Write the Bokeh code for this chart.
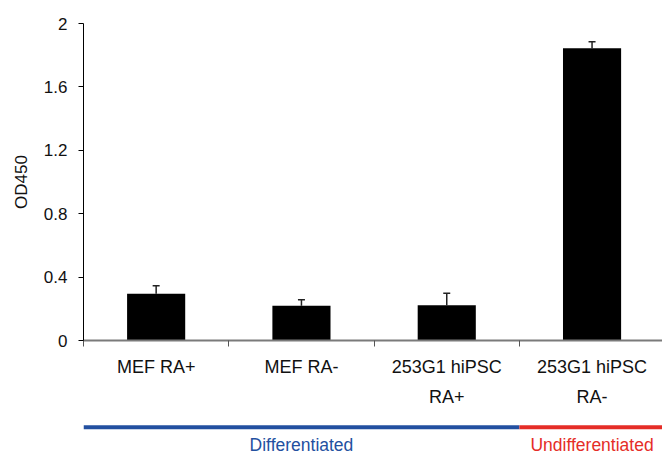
from bokeh.plotting import figure
from bokeh.models import (ColumnDataSource, Range1d, FixedTicker, Whisker, TeeHead)
from bokeh.layouts import column
from bokeh.core.properties import value
from bokeh.embed import file_html
from bokeh.resources import INLINE

# ---- data ----
categories_line1 = ["MEF RA+", "MEF RA-", "253G1 hiPSC", "253G1 hiPSC"]
categories_line2 = ["", "", "RA+", "RA-"]
od450 = [0.295, 0.219, 0.223, 1.844]
od450_err = [0.050, 0.038, 0.075, 0.041]
y_ticks = [0, 0.4, 0.8, 1.2, 1.6, 2]
y_tick_labels = ["0", "0.4", "0.8", "1.2", "1.6", "2"]
groups = ["Differentiated", "Undifferentiated"]
group_start = [0, 3]
group_end = [3, 4]
group_colors = ["#2350a0", "#e52d27"]

FONT_NAME = "Liberation Sans"
FONT = value(FONT_NAME)

xs = [i + 0.5 for i in range(len(od450))]
src = ColumnDataSource(dict(
    x=xs, value=od450,
    upper=[v + e for v, e in zip(od450, od450_err)],
    line1=categories_line1, line2=categories_line2,
))
gsrc = ColumnDataSource(dict(
    start=group_start, end=group_end, color=group_colors, name=groups,
    mid=[(s + e) / 2 for s, e in zip(group_start, group_end)],
))

W = 662
LEFT = 83
x_range = Range1d(0, (W - LEFT) / 145.3)

p = figure(width=W, height=352, x_range=x_range, y_range=Range1d(0, 2),
           toolbar_location=None, output_backend="svg",
           min_border_left=LEFT, min_border_right=0, min_border_top=23,
           min_border_bottom=12)
p.outline_line_color = None
p.xgrid.visible = False
p.ygrid.visible = False

p.vbar(x="x", top="value", width=0.4, source=src, fill_color="black",
       line_color=None)
p.add_layout(Whisker(base="x", lower="value", upper="upper", source=src,
                     lower_head=None,
                     upper_head=TeeHead(size=7, line_color="#222", line_width=1.5),
                     line_color="#222", line_width=1.5))

# y axis
ya = p.yaxis[0]
ya.ticker = FixedTicker(ticks=y_ticks, minor_ticks=[])
ya.major_label_overrides = {t: l for t, l in zip(y_ticks, y_tick_labels)}
ya.axis_line_color = "black"
ya.axis_line_width = 1
ya.major_tick_out = 5
ya.major_tick_in = 0
ya.major_tick_line_color = "black"
ya.major_label_standoff = 11
ya.major_label_text_font = FONT_NAME
ya.major_label_text_font_size = "17px"
ya.major_label_text_color = "#111111"
ya.axis_label = "OD450"
ya.axis_label_text_font = FONT_NAME
ya.axis_label_text_font_size = "17px"
ya.axis_label_text_font_style = "normal"
ya.axis_label_text_color = "#111111"
ya.axis_label_standoff = 10

# x axis: only boundary ticks
xa = p.xaxis[0]
xa.ticker = FixedTicker(ticks=[], minor_ticks=list(range(len(od450) + 1)))
xa.axis_line_color = "#7a7a7a"
xa.axis_line_width = 2
xa.major_tick_line_color = None
xa.major_tick_out = 0
xa.major_tick_in = 0
xa.minor_tick_out = 6
xa.minor_tick_in = 0
xa.minor_tick_line_color = "#555555"
xa.minor_tick_line_width = 1
xa.major_label_text_font_size = "0px"
xa.major_label_standoff = 0

# lower panel: category labels and group bars
H2 = 101
p2 = figure(width=W, height=H2, x_range=x_range, y_range=Range1d(H2, 0),
            toolbar_location=None, output_backend="svg",
            min_border_left=LEFT, min_border_right=0, min_border_top=0,
            min_border_bottom=0, x_axis_location=None, y_axis_location=None)
p2.outline_line_color = None
p2.xgrid.visible = False
p2.ygrid.visible = False

p2.text(x="x", y=14, text="line1", source=src, text_align="center",
        text_baseline="middle", text_font=FONT, text_font_size="18px",
        text_color="#111111")
p2.text(x="x", y=44.5, text="line2", source=src, text_align="center",
        text_baseline="middle", text_font=FONT, text_font_size="18px",
        text_color="#111111")
p2.segment(x0="start", x1="end", y0=74.7, y1=74.7, line_color="color",
           line_width=4, source=gsrc)
p2.text(x="mid", y=92, text="name", color="color", source=gsrc,
        text_align="center", text_baseline="middle", text_font=FONT,
        text_font_size="17.5px")

layout = column(p, p2, spacing=0)
open("out.html", "w").write(file_html(layout, INLINE))
